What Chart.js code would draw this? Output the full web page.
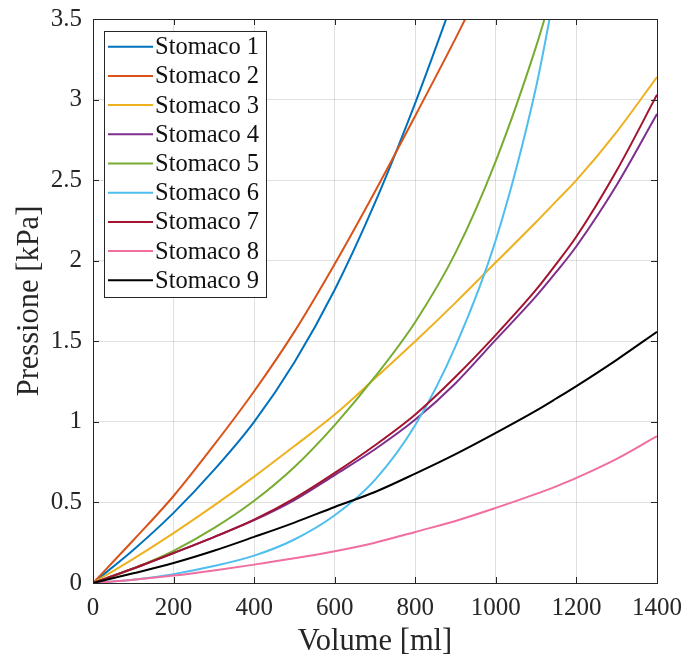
<!DOCTYPE html>
<html>
<head>
<meta charset="utf-8">
<script src="https://cdn.jsdelivr.net/npm/chart.js@4"></script>
<style>
  body { margin: 0; background: #fff; }
  #wrap { width: 689px; height: 666px; }
</style>
</head>
<body>
<div id="wrap"><canvas id="pvChart" width="689" height="666"></canvas></div>
<script>
// DATA
const volume = [0, 100, 200, 300, 400, 500, 600, 700, 800, 900, 1000, 1100, 1150, 1200, 1300, 1400];
const stomaco1 = [0, 0.205, 0.435, 0.70, 1.00, 1.37, 1.82, 2.36, 2.98, 3.66, null, null, null, null, null, null];
const stomaco2 = [0, 0.265, 0.54, 0.855, 1.19, 1.56, 1.98, 2.43, 2.90, 3.38, 3.88, null, null, null, null, null];
const stomaco3 = [0, 0.15, 0.31, 0.48, 0.66, 0.85, 1.045, 1.27, 1.50, 1.74, 1.99, 2.24, 2.37, 2.50, 2.80, 3.14];
const stomaco4 = [0, 0.09, 0.186, 0.285, 0.39, 0.515, 0.67, 0.83, 1.014, 1.24, 1.51, 1.78, 1.93, 2.09, 2.47, 2.91];
const stomaco5 = [0, 0.09, 0.20, 0.34, 0.51, 0.72, 0.98, 1.28, 1.62, 2.05, 2.62, 3.33, 3.75, null, null, null];
const stomaco6 = [0, 0.02, 0.055, 0.105, 0.17, 0.27, 0.42, 0.64, 0.98, 1.47, 2.13, 3.08, 3.72, null, null, null];
const stomaco7 = [0, 0.09, 0.186, 0.285, 0.393, 0.525, 0.683, 0.855, 1.046, 1.28, 1.54, 1.82, 1.98, 2.15, 2.56, 3.03];
const stomaco8 = [0, 0.02, 0.046, 0.078, 0.114, 0.153, 0.197, 0.25, 0.317, 0.385, 0.466, 0.553, 0.60, 0.652, 0.77, 0.911];
const stomaco9 = [0, 0.06, 0.124, 0.20, 0.286, 0.375, 0.472, 0.565, 0.679, 0.80, 0.932, 1.07, 1.145, 1.222, 1.385, 1.559];

const seriesNames = ['Stomaco 1', 'Stomaco 2', 'Stomaco 3', 'Stomaco 4', 'Stomaco 5',
                     'Stomaco 6', 'Stomaco 7', 'Stomaco 8', 'Stomaco 9'];
const seriesValues = [stomaco1, stomaco2, stomaco3, stomaco4, stomaco5, stomaco6, stomaco7, stomaco8, stomaco9];
const seriesColors = ['#0072BD', '#D95319', '#EDB120', '#7E2F8E', '#77AC30',
                      '#4DBEEE', '#A2142F', '#F06EA0', '#000000'];

const xMin = 0, xMax = 1400, xStep = 200;
const yMin = 0, yMax = 3.5, yStep = 0.5;

const SERIF = "'Liberation Serif', 'Times New Roman', serif";
const AXIS_COLOR = '#262626';

// box round the plot + inward ticks, like matlab
const boxPlugin = {
    id: 'box',
    afterDatasetsDraw(chart) {
        const { ctx, chartArea: a, scales } = chart;
        ctx.save();
        ctx.strokeStyle = AXIS_COLOR;
        ctx.lineWidth = 1;
        ctx.beginPath();
        scales.x.ticks.forEach(t => {
            const px = Math.round(scales.x.getPixelForValue(t.value)) + 0.5;
            ctx.moveTo(px, a.bottom); ctx.lineTo(px, a.bottom - 6);
            ctx.moveTo(px, a.top); ctx.lineTo(px, a.top + 6);
        });
        scales.y.ticks.forEach(t => {
            const py = Math.round(scales.y.getPixelForValue(t.value)) + 0.5;
            ctx.moveTo(a.left, py); ctx.lineTo(a.left + 6, py);
            ctx.moveTo(a.right, py); ctx.lineTo(a.right - 6, py);
        });
        ctx.stroke();
        ctx.strokeRect(Math.round(a.left) + 0.5, Math.round(a.top) + 0.5,
                       Math.round(a.right - a.left), Math.round(a.bottom - a.top));
        ctx.restore();
    }
};

// legend box in the upper-left corner of the plot
const legendBox = {
    id: 'legendBox',
    afterDraw(chart) {
        const { ctx } = chart;
        const x0 = 104.5, y0 = 31.5, w = 162, h = 266;
        ctx.save();
        ctx.fillStyle = '#fff';
        ctx.fillRect(x0, y0, w, h);
        ctx.strokeStyle = AXIS_COLOR;
        ctx.lineWidth = 1;
        ctx.strokeRect(x0, y0, w, h);
        ctx.font = '24.5px ' + SERIF;
        ctx.textBaseline = 'middle';
        ctx.textAlign = 'left';
        chart.data.datasets.forEach((ds, i) => {
            const cy = 46.7 + i * 29.2;
            ctx.strokeStyle = ds.borderColor;
            ctx.lineWidth = 2;
            ctx.beginPath();
            ctx.moveTo(108, cy); ctx.lineTo(153, cy);
            ctx.stroke();
            ctx.fillStyle = '#111';
            ctx.fillText(ds.label, 155, cy + 1);
        });
        ctx.restore();
    }
};

const datasets = seriesNames.map((name, i) => ({
    label: name,
    data: volume.map((v, j) => ({ x: v, y: seriesValues[i][j] })),
    borderColor: seriesColors[i],
    backgroundColor: seriesColors[i],
    borderWidth: 2,
    pointRadius: 0,
    cubicInterpolationMode: 'monotone',
    spanGaps: false,
    clip: 0,
    order: seriesNames.length - i
}));

new Chart(document.getElementById('pvChart'), {
    type: 'line',
    data: { datasets },
    options: {
        responsive: false,
        animation: false,
        layout: { padding: { left: 0, top: 19, right: 32, bottom: 0 } },
        plugins: { legend: { display: false }, tooltip: { enabled: false } },
        scales: {
            x: {
                type: 'linear', min: xMin, max: xMax,
                afterFit: s => { s.height = 83; s.paddingLeft = 0; s.paddingRight = 0; },
                grid: { color: 'rgba(0,0,0,0.12)', drawTicks: false },
                border: { display: false },
                ticks: {
                    stepSize: xStep, padding: 10, color: AXIS_COLOR,
                    font: { family: SERIF, size: 25 },
                    callback: v => String(v)
                },
                title: {
                    display: true, text: 'Volume [ml]', color: AXIS_COLOR,
                    font: { family: SERIF, size: 30.5, lineHeight: 1 },
                    padding: { top: 0, bottom: 9 }
                }
            },
            y: {
                type: 'linear', min: yMin, max: yMax,
                afterFit: s => { s.width = 93; s.paddingTop = 0; s.paddingBottom = 0; },
                grid: { color: 'rgba(0,0,0,0.12)', drawTicks: false },
                border: { display: false },
                ticks: {
                    stepSize: yStep, padding: 11, color: AXIS_COLOR,
                    font: { family: SERIF, size: 25 },
                    callback: v => String(v)
                },
                title: {
                    display: true, text: 'Pressione [kPa]', color: AXIS_COLOR,
                    font: { family: SERIF, size: 30.5, lineHeight: 1 },
                    padding: { top: 15, bottom: 0 }
                }
            }
        }
    },
    plugins: [boxPlugin, legendBox]
});
</script>
</body>
</html>
